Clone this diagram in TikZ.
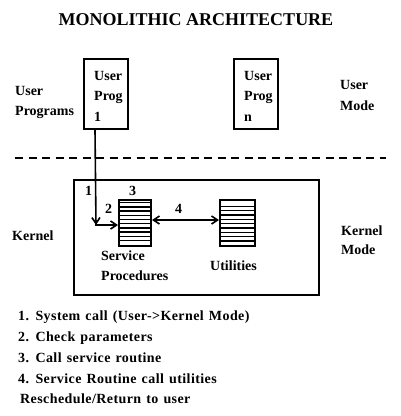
\documentclass[tikz,border=0pt]{standalone}
\usepackage{fontspec}
\setmainfont{Liberation Serif}
\newfontfamily\mylistfont{Liberation Serif}[LetterSpace=3,WordSpace=1.3]
\usetikzlibrary{arrows.meta}
\begin{document}
\begin{tikzpicture}[x=1pt,y=-1pt,
  txt/.style={anchor=base west,inner sep=0pt,font=\fontsize{14}{16}\selectfont\bfseries},
  ltxt/.style={txt,font=\mylistfont\fontsize{14}{16}\selectfont\bfseries},
  box/.style={draw,line width=2pt,inner sep=0pt},
  stripe/.style={line width=1.3pt},
  barb/.style={line width=1.6pt,-{Straight Barb[length=6pt,width=8pt,line width=1.6pt]}},
  dbarb/.style={line width=1.6pt,{Straight Barb[length=6pt,width=8pt,line width=1.6pt]}-{Straight Barb[length=6pt,width=8pt,line width=1.6pt]}}]
\useasboundingbox[fill=white] (0,0) rectangle (401,416);
% title
\node[anchor=base,inner sep=0pt,font=\fontsize{18}{20}\selectfont\bfseries] (title) at (196,25) {MONOLITHIC ARCHITECTURE};
% user side
\node[txt] (up1) at (15,95) {User};
\node[txt] (up2) at (15,115) {Programs};
\node[box,minimum width=44pt,minimum height=70pt] (p1) at (106,94) {};
\node[txt] (p1a) at (94,80) {User};
\node[txt] (p1b) at (94,100) {Prog};
\node[txt] (p1c) at (94,121.5) {1};
\node[box,minimum width=44pt,minimum height=70pt] (pn) at (256,94) {};
\node[txt] (pna) at (244,80) {User};
\node[txt] (pnb) at (244,100) {Prog};
\node[txt] (pnc) at (244,121.5) {n};
\node[txt] (um1) at (340,89) {User};
\node[txt] (um2) at (340,110) {Mode};
% separator
\coordinate (dl) at (15,158);
\coordinate (dr) at (386,158);
\draw[line width=1.8pt,dash pattern=on 8pt off 5.5pt] (dl) -- (dr);
% kernel
\node[box,minimum width=245pt,minimum height=115pt] (kb) at (196.5,237.5) {};
\node[txt] (k1) at (12,240) {Kernel};
\node[txt] (km1) at (341,235.5) {Kernel};
\node[txt] (km2) at (341,254.5) {Mode};
\node[box,minimum width=32pt,minimum height=46pt] (svc) at (135,222.5) {};
\foreach \k in {1,...,10}
  \draw[stripe] ([yshift=-\k*4.2pt]svc.north west) -- ([yshift=-\k*4.2pt]svc.north east);
\node[box,minimum width=35pt,minimum height=46pt] (util) at (237.5,222.5) {};
\foreach \k in {0,...,8}
  \draw[stripe] ([yshift=-8pt-\k*4.3pt]util.north west) -- ([yshift=-8pt-\k*4.3pt]util.north east);
\node[txt] (sv1) at (101,260) {Service};
\node[txt] (sv2) at (101,280) {Procedures};
\node[txt] (ut) at (210,270) {Utilities};
\node[txt] (n1) at (85,195) {1};
\node[txt] (n3) at (129,195) {3};
\node[txt] (n2) at (105,213) {2};
\node[txt] (n4) at (175,213) {4};
% connectors
\coordinate (corner) at (96,225);
\draw[barb] ([xshift=12pt]p1.south west) -- (corner);
\draw[barb] ([xshift=-0.8pt]corner) -- (corner -| svc.west);
\draw[dbarb] ([yshift=2.5pt]svc.east) -- ([yshift=2.5pt]util.west);
% list
\node[ltxt] (l1) at (18,320.5) {1. System call (User{-}>Kernel Mode)};
\node[ltxt] (l2) at (18,341.5) {2. Check parameters};
\node[ltxt] (l3) at (18,362) {3. Call service routine};
\node[ltxt] (l4) at (18,383) {4. Service Routine call utilities};
\node[ltxt] (l5) at (20,403) {Reschedule/Return to user};
\end{tikzpicture}
\end{document}
